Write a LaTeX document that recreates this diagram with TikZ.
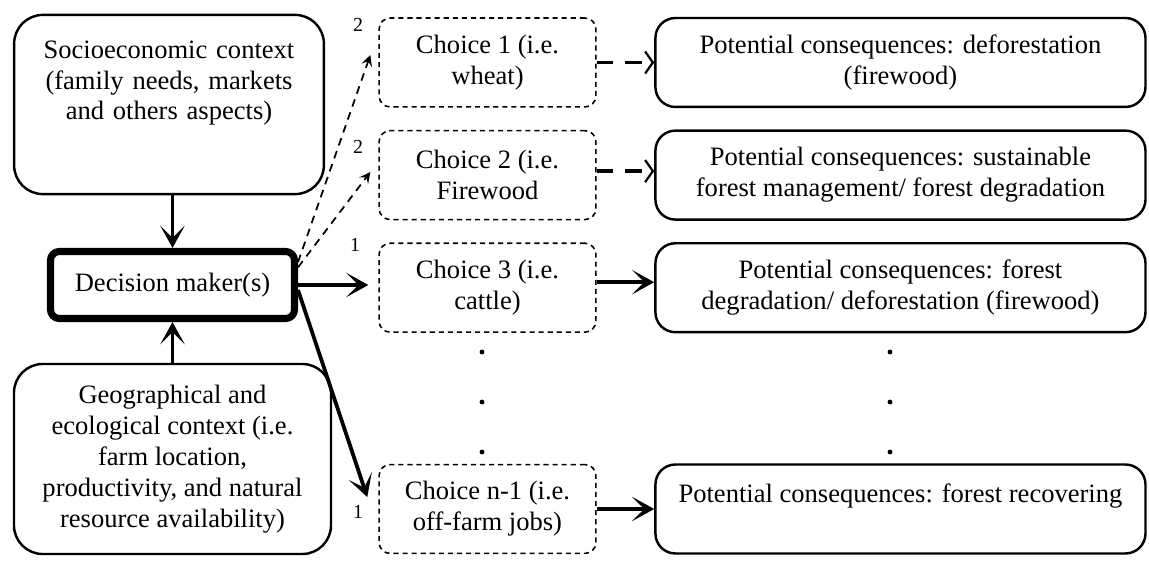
\documentclass[tikz,border=0pt]{standalone}
\usepackage{fontspec}
\setmainfont{Liberation Serif}
\usetikzlibrary{arrows.meta,positioning}
\tikzset{
    ctxbox/.style={
        rectangle,
        rounded corners=13pt,
        draw,
        line width=1.1pt,
        align=center
    },
    decbox/.style={
        rectangle,
        rounded corners=4pt,
        draw,
        line width=3.2pt,
        minimum width=110.3pt,
        minimum height=30.3pt
    },
    choicebox/.style={
        rectangle,
        rounded corners=5pt,
        draw,
        line width=0.7pt,
        dash pattern=on 2.3pt off 1.8pt,
        minimum width=98pt,
        minimum height=40.2pt,
        align=center
    },
    consbox/.style={
        rectangle,
        rounded corners=9pt,
        draw,
        line width=1.1pt,
        minimum width=221.5pt,
        minimum height=40.2pt,
        align=center
    },
    numlbl/.style={
        font=\fontsize{9}{10}\selectfont,
        inner sep=1pt
    },
    solidarr/.style={
        ->,
        line width=1.7pt
    },
    dasharr/.style={
        -{Stealth[length=5pt,width=5pt,inset=2pt]},
        line width=0.8pt,
        dash pattern=on 3.5pt off 2.7pt
    },
    dashtip/.style={
        -{Straight Barb[length=3.5pt,width=10pt,line width=1pt]},
        line width=1.8pt,
        dash pattern=on 7.5pt off 5.4pt
    }
}
\begin{document}
\begin{tikzpicture}[x=0.452pt,y=-0.452pt,node distance=10pt and 26pt,
    >={Stealth[length=10pt,width=11pt,inset=5.5pt]},font=\fontsize{12}{14}\selectfont]
    \useasboundingbox (0,0) rectangle (1149,565);
    \node [ctxbox,text width=138pt,inner xsep=1pt,inner ysep=0pt,
        text height=19.5pt,text depth=61.5pt] (socio) at (169,104.5)
        {Socioeconomic context\\(family needs, markets\\and others aspects)};
    \node [decbox] (dm) at (172.5,285) {Decision maker(s)};
    \node [ctxbox,minimum width=143.3pt,minimum height=85.9pt] (geo) at (172.5,459)
        {Geographical and\\ecological context (i.e.\\farm location,\\productivity, and natural\\resource availability)};

    \node [choicebox] (c1) at (487.5,62.5) {Choice 1 (i.e.\\wheat)};
    \node [choicebox] (c2) [below=of c1] {Choice 2 (i.e.\\Firewood};
    \node [choicebox] (c3) [below=of c2] {Choice 3 (i.e.\\cattle)};
    \node [choicebox] (cn) at (487.5,509) {Choice n-1 (i.e.\\off-farm jobs)};

    \node [consbox] (con1) [right=of c1] {Potential consequences: deforestation\\(firewood)};
    \node [consbox] (con2) [right=of c2] {Potential consequences: sustainable\\forest management/ forest degradation};
    \node [consbox] (con3) [right=of c3] {Potential consequences: forest\\degradation/ deforestation (firewood)};
    \node [consbox] (con4) [right=of cn] {Potential consequences: forest recovering\\\mbox{}};

    \node [numlbl] (w1) at (358,25) {2};
    \node [numlbl] (w2) at (358,147) {2};
    \node [numlbl] (w3) at (355,245) {1};
    \node [numlbl] (w4) at (358,512) {1};

    \foreach \y in {352,402,452}
        \fill (482,\y) circle[radius=1.1pt] (890,\y) circle[radius=1.1pt];

    \draw [solidarr] (socio.south -| dm.north) -- (dm.north);
    \draw [solidarr] (geo.north -| dm.south) -- (dm.south);
    \draw [dasharr] ([yshift=10.4pt]dm.east) -- ([xshift=-3.6pt,yshift=3.4pt]c1.west);
    \draw [dasharr] ([yshift=8pt]dm.east) -- ([xshift=-3.6pt,yshift=1.4pt]c2.west);
    \draw [solidarr,shorten >=4.5pt] (dm.east) -- (dm.east -| c3.west);
    \draw [solidarr] ([yshift=-2.3pt]dm.east) -- ([xshift=-5pt,yshift=5.4pt]cn.west);
    \draw [dashtip] (c1.east) -- (c1.east -| con1.west);
    \draw [dashtip] ([yshift=1.8pt]c2.east) -- ([yshift=1.8pt]c2.east -| con2.west);
    \draw [solidarr] ([yshift=2.5pt]c3.east) -- ([yshift=2.5pt]c3.east -| con3.west);
    \draw [solidarr] (cn.east) -- (cn.east -| con4.west);
\end{tikzpicture}
\end{document}
